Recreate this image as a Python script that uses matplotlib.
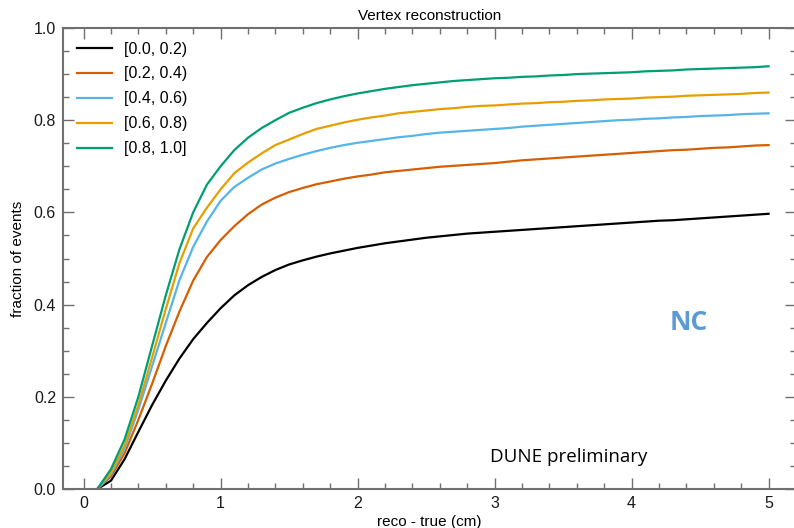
import numpy as np
import matplotlib
matplotlib.use('Agg')
import matplotlib.pyplot as plt
from matplotlib.ticker import MultipleLocator

plt.rcParams['font.family'] = ['Liberation Sans', 'DejaVu Sans']

# reco - true distance (cm)
dist = [0.1, 0.2, 0.3, 0.4, 0.5, 0.6, 0.7, 0.8, 0.9, 1.0,
        1.1, 1.2, 1.3, 1.4, 1.5, 1.6, 1.7, 1.8, 1.9, 2.0,
        2.1, 2.2, 2.3, 2.4, 2.5, 2.6, 2.7, 2.8, 2.9, 3.0,
        3.1, 3.2, 3.3, 3.4, 3.5, 3.6, 3.7, 3.8, 3.9, 4.0,
        4.1, 4.2, 4.3, 4.4, 4.5, 4.6, 4.7, 4.8, 4.9, 5.0]

frac_00_02 = [0.0, 0.018, 0.065, 0.124, 0.182, 0.235, 0.283, 0.325, 0.360, 0.392,
              0.420, 0.442, 0.460, 0.475, 0.487, 0.496, 0.504, 0.511, 0.517, 0.523,
              0.528, 0.533, 0.537, 0.541, 0.545, 0.548, 0.551, 0.554, 0.556, 0.558,
              0.560, 0.562, 0.564, 0.566, 0.568, 0.570, 0.572, 0.574, 0.576, 0.578,
              0.580, 0.582, 0.583, 0.585, 0.587, 0.589, 0.591, 0.593, 0.595, 0.597]

frac_02_04 = [0.0, 0.027, 0.078, 0.150, 0.228, 0.310, 0.385, 0.452, 0.503, 0.540,
              0.570, 0.596, 0.617, 0.632, 0.644, 0.653, 0.661, 0.667, 0.673, 0.678,
              0.682, 0.687, 0.690, 0.693, 0.696, 0.699, 0.701, 0.703, 0.705, 0.707,
              0.710, 0.713, 0.715, 0.717, 0.719, 0.721, 0.723, 0.725, 0.727, 0.729,
              0.731, 0.733, 0.735, 0.736, 0.738, 0.740, 0.741, 0.743, 0.745, 0.746]

frac_04_06 = [0.0, 0.032, 0.088, 0.172, 0.266, 0.360, 0.453, 0.525, 0.580, 0.625,
              0.655, 0.675, 0.693, 0.706, 0.716, 0.725, 0.733, 0.740, 0.746, 0.751,
              0.755, 0.759, 0.763, 0.766, 0.770, 0.773, 0.775, 0.777, 0.779, 0.781,
              0.783, 0.786, 0.788, 0.790, 0.792, 0.794, 0.796, 0.798, 0.800, 0.801,
              0.803, 0.804, 0.806, 0.807, 0.809, 0.810, 0.811, 0.813, 0.814, 0.815]

frac_06_08 = [0.0, 0.036, 0.095, 0.182, 0.285, 0.390, 0.490, 0.565, 0.610, 0.650,
              0.685, 0.708, 0.728, 0.746, 0.758, 0.770, 0.781, 0.788, 0.795, 0.801,
              0.806, 0.810, 0.815, 0.818, 0.821, 0.824, 0.826, 0.829, 0.831, 0.832,
              0.834, 0.836, 0.837, 0.839, 0.840, 0.842, 0.843, 0.845, 0.846, 0.847,
              0.849, 0.850, 0.851, 0.853, 0.854, 0.855, 0.856, 0.857, 0.859, 0.860]

frac_08_10 = [0.0, 0.043, 0.108, 0.200, 0.310, 0.420, 0.520, 0.600, 0.660, 0.700,
              0.735, 0.762, 0.783, 0.800, 0.816, 0.827, 0.837, 0.845, 0.852, 0.858,
              0.863, 0.868, 0.872, 0.876, 0.879, 0.882, 0.885, 0.887, 0.889, 0.891,
              0.892, 0.894, 0.895, 0.897, 0.898, 0.900, 0.901, 0.902, 0.903, 0.904,
              0.906, 0.907, 0.908, 0.910, 0.911, 0.912, 0.913, 0.914, 0.915, 0.917]

labels = ['[0.0, 0.2)', '[0.2, 0.4)', '[0.4, 0.6)', '[0.6, 0.8)', '[0.8, 1.0]']
colors = ['#000000', '#d55e00', '#56b4e9', '#e69f00', '#009e73']
series = [frac_00_02, frac_02_04, frac_04_06, frac_06_08, frac_08_10]

fig = plt.figure(figsize=(7.94, 5.28), dpi=100)
ax = fig.add_axes([63/794, 1 - 489/528, (796 - 63)/794, (489 - 28)/528])

for ys, lab, col in zip(series, labels, colors):
    ax.plot(dist, ys, color=col, lw=1.6, label=lab)

ax.set_xlim(-0.15, 5.2)
ax.set_ylim(0, 1.0)
ax.xaxis.set_major_locator(MultipleLocator(1))
ax.xaxis.set_minor_locator(MultipleLocator(0.2))
ax.yaxis.set_major_locator(MultipleLocator(0.2))
ax.yaxis.set_minor_locator(MultipleLocator(0.05))
ax.tick_params(which='both', direction='in', top=True, right=True,
               color='#707070', width=1.0, labelsize=11.5, labelcolor='#1a1a1a')
ax.tick_params(which='major', length=8, pad=5)
ax.tick_params(which='minor', length=4.5)
for sp in ax.spines.values():
    sp.set_color('#707070')
    sp.set_linewidth(1.5)

ax.set_xlabel('reco - true (cm)', fontsize=11, labelpad=3)
ax.set_ylabel('fraction of events', fontsize=11, labelpad=6)
ax.set_title('Vertex reconstruction', fontsize=11, pad=6)

leg = ax.legend(loc='upper left', frameon=False, fontsize=11.5, handlelength=2.2,
                labelspacing=0.62, handletextpad=0.8, borderaxespad=0.45)

fig.text(490/794, 1 - 457/528, 'DUNE preliminary', fontsize=13.5,
         family=['Open Sans', 'DejaVu Sans'], va='center', ha='left')
fig.text(689/794, 1 - 322/528, 'NC', fontsize=19, fontweight='bold',
         color='#5b9bd5', family=['Open Sans', 'DejaVu Sans'], va='center', ha='center')

fig.savefig('out.png', dpi=100)
